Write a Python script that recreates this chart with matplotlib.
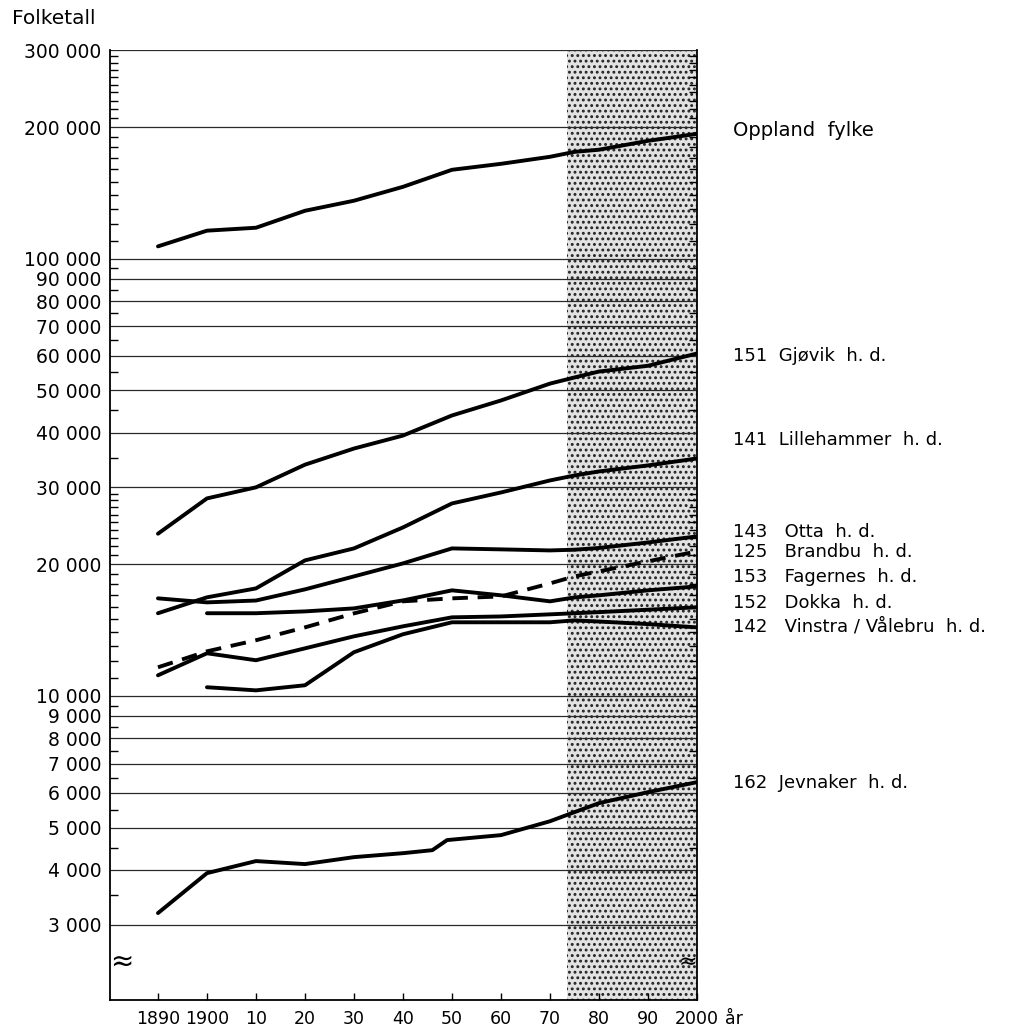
import numpy as np
import matplotlib.pyplot as plt
from matplotlib.ticker import FixedLocator, FixedFormatter, NullFormatter

plt.rcParams['font.family'] = ['DejaVu Sans']
plt.rcParams['hatch.linewidth'] = 1.3
plt.rcParams['hatch.color'] = '#222222'

# data (folketall per year)
years = [1890, 1900, 1910, 1920, 1930, 1940, 1950, 1960, 1970, 1975, 1980, 1990, 2000]
years_from_1900 = years[1:]
years_jevnaker = [1890, 1900, 1910, 1920, 1930, 1940, 1946, 1949, 1960, 1970, 1975, 1980, 1990, 2000]

oppland = [106700, 115900, 117700, 128700, 135700, 146000, 159700, 164800, 171000, 175500, 177500, 186000, 193000]
gjovik = [23500, 28300, 30000, 33800, 36800, 39400, 43800, 47400, 51800, 53500, 55200, 56900, 60700]
lillehammer = [15460, 16810, 17620, 20420, 21750, 24290, 27560, 29200, 31110, 31930, 32620, 33670, 34920]
otta = [16720, 16370, 16530, 17530, 18770, 20100, 21750, 21640, 21520, 21600, 21800, 22440, 23170]
brandbu = [11630, 12650, 13410, 14350, 15450, 16460, 16720, 16890, 18090, 18770, 19270, 20320, 21410]
fagernes = [15460, 15460, 15610, 15860, 16540, 17440, 16990, 16460, 16800, 16990, 17440, 17810]
dokka = [11150, 12520, 12070, 12850, 13690, 14430, 15130, 15200, 15370, 15460, 15550, 15750, 15950]
vinstra = [10470, 10300, 10580, 12590, 13840, 14740, 14740, 14740, 14890, 14800, 14600, 14350]
jevnaker = [3188, 3934, 4192, 4126, 4280, 4370, 4440, 4682, 4806, 5170, 5424, 5687, 6026, 6351]

names = ["Oppland  fylke", "151  Gjøvik  h. d.", "141  Lillehammer  h. d.",
         "143   Otta  h. d.", "125   Brandbu  h. d.", "153   Fagernes  h. d.",
         "152   Dokka  h. d.", "142   Vinstra / Vålebru  h. d.", "162  Jevnaker  h. d."]
label_at = [196000, 60000, 38400, 23700, 21300, 18700, 16300, 14400, 6320]
label_size = [14, 13, 13, 13, 13, 13, 13, 13, 13]

major_y = [3000, 4000, 5000, 6000, 7000, 8000, 9000, 10000,
           20000, 30000, 40000, 50000, 60000, 70000, 80000, 90000, 100000,
           200000, 300000]
minor_y = ([3500, 4500, 5500, 6500, 7500, 8500, 9500]
           + list(range(11000, 20000, 1000)) + list(range(21000, 30000, 1000))
           + list(range(35000, 100000, 10000))
           + list(range(110000, 200000, 10000)) + list(range(210000, 300000, 10000)))
x_ticks = [1890, 1900, 1910, 1920, 1930, 1940, 1950, 1960, 1970, 1980, 1990, 2000]
x_labels = ["1890", "1900", "10", "20", "30", "40", "50", "60", "70", "80", "90", "2000"]
prognose_start = 1973.5

fig = plt.figure(figsize=(10.2, 10.32), dpi=100)
ax = fig.add_axes([0.1078, 0.031, 0.5755, 0.9205])
ax.set_yscale('log')
ax.set_xlim(1880.2, 2000)
ax.set_ylim(2017, 300000)

# shaded projection period
ax.axvspan(prognose_start, 2000, facecolor='#e2e2e2', edgecolor='#222222',
           hatch='...', lw=0, zorder=0)

for v in major_y:
    ax.axhline(v, color='#2a2a2a', lw=0.9, zorder=1)

lw = 2.8
ax.plot(years, oppland, color='black', lw=lw, zorder=3, solid_capstyle='round')
ax.plot(years, gjovik, color='black', lw=lw, zorder=3, solid_capstyle='round')
ax.plot(years, lillehammer, color='black', lw=lw, zorder=3, solid_capstyle='round')
ax.plot(years, otta, color='black', lw=lw, zorder=3, solid_capstyle='round')
ax.plot(years, brandbu, color='black', lw=lw, zorder=3, dashes=(4, 2.5))
ax.plot(years_from_1900, fagernes, color='black', lw=lw, zorder=3, solid_capstyle='round')
ax.plot(years, dokka, color='black', lw=lw, zorder=3, solid_capstyle='round')
ax.plot(years_from_1900, vinstra, color='black', lw=lw, zorder=3, solid_capstyle='round')
ax.plot(years_jevnaker, jevnaker, color='black', lw=lw, zorder=3, solid_capstyle='round')

for name, yv, fs in zip(names, label_at, label_size):
    ax.text(1.061, yv, name, transform=ax.get_yaxis_transform(), fontsize=fs,
            ha='left', va='center', clip_on=False)

ax.yaxis.set_major_locator(FixedLocator(major_y))
ax.yaxis.set_major_formatter(FixedFormatter([f"{v:,}".replace(",", " ") for v in major_y]))
ax.yaxis.set_minor_locator(FixedLocator(minor_y))
ax.yaxis.set_minor_formatter(NullFormatter())
ax.tick_params(axis='y', which='major', length=0, pad=6, labelsize=13.5)
ax.tick_params(axis='y', which='minor', direction='in', length=5.5, width=1, right=True)

ax.set_xticks(x_ticks)
ax.set_xticklabels(x_labels, fontsize=12.5)
ax.tick_params(axis='x', direction='in', length=5, width=1, pad=7)

for side in ['left', 'bottom', 'right']:
    ax.spines[side].set_linewidth(1.3)
ax.spines['top'].set_visible(False)

ax.annotate("år", xy=(1, 0), xycoords='axes fraction', xytext=(28, -10),
            textcoords='offset pixels', fontsize=12.5, ha='left', va='top')
fig.text(12 / 1020, 1 - 18 / 1032, "Folketall", fontsize=14.5, ha='left', va='center')

# axis break marks
ax.text(0.0, 0.04, "≈", transform=ax.transAxes, fontsize=20, ha='left', va='center')
ax.text(1.0, 0.04, "≈", transform=ax.transAxes, fontsize=16, ha='right', va='center')

fig.savefig("out.png", dpi=100)
